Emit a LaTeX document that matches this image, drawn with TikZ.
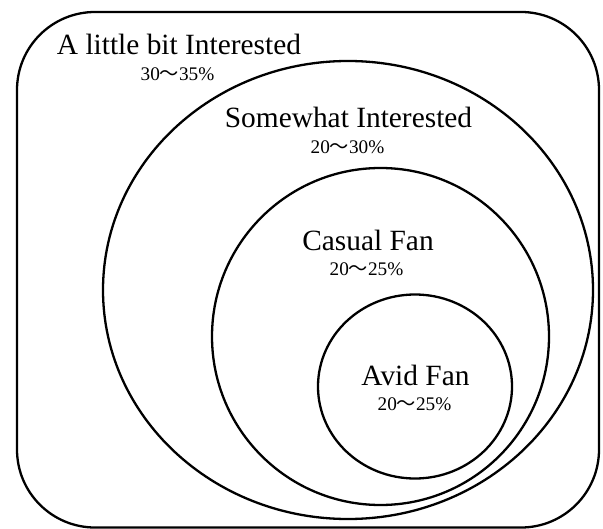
\documentclass[tikz,border=0pt]{standalone}
\usepackage{fontspec}
\setmainfont{Liberation Serif}
\newfontfamily\cjkfont{Noto Sans CJK JP}
\newcommand{\wdash}{{\cjkfont 〜}}
\begin{document}
\begin{tikzpicture}[x=1bp,y=-1bp,line width=2.3bp,
  lbl/.style={anchor=base,inner sep=0pt,font=\fontsize{29.5}{32}\selectfont},
  pct/.style={anchor=base,inner sep=0pt,font=\fontsize{19.3}{22}\selectfont}]
\useasboundingbox (0,0) rectangle (603,529);
\draw[rounded corners=78bp] (17,12) rectangle (599,527.5);
\draw (348,290) ellipse [x radius=245, y radius=229];
\draw (380.5,336.5) circle [radius=168.5];
\draw (415,386.5) ellipse [x radius=97, y radius=92];
\node[lbl] (l1) at (179,55) {A little bit Interested};
\node[pct] (p1) at (177.5,81) {30\wdash35\%};
\node[lbl] (l2) at (348.5,127.3) {Somewhat Interested};
\node[pct] (p2) at (347.5,154) {20\wdash30\%};
\node[lbl] (l3) at (368,250) {Casual Fan};
\node[pct] (p3) at (366.5,275) {20\wdash25\%};
\node[lbl] (l4) at (415.5,385) {Avid Fan};
\node[pct] (p4) at (414.5,410.7) {20\wdash25\%};
\end{tikzpicture}
\end{document}
